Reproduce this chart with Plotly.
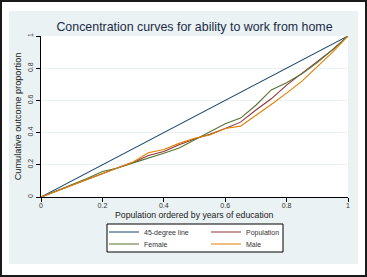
import plotly.graph_objects as go

x_share = [0, 0.05, 0.1, 0.15, 0.2, 0.25, 0.3, 0.35, 0.4, 0.45, 0.5,
           0.55, 0.6, 0.65, 0.7, 0.75, 0.8, 0.85, 0.9, 0.95, 1]
diag = [0, 1]
population = [0, 0.037, 0.075, 0.11, 0.148, 0.182, 0.215, 0.258, 0.283, 0.325, 0.36,
              0.39, 0.425, 0.465, 0.54, 0.61, 0.695, 0.77, 0.84, 0.915, 1]
female = [0, 0.038, 0.078, 0.115, 0.158, 0.18, 0.212, 0.24, 0.272, 0.305, 0.355,
          0.40, 0.455, 0.49, 0.57, 0.665, 0.71, 0.765, 0.835, 0.915, 1]
male = [0, 0.035, 0.072, 0.108, 0.145, 0.18, 0.218, 0.275, 0.295, 0.333, 0.365,
        0.385, 0.425, 0.44, 0.505, 0.575, 0.645, 0.72, 0.81, 0.90, 1]
ticks = [0, 0.2, 0.4, 0.6, 0.8, 1]
tick_text = ["0", "0.2", "0.4", "0.6", "0.8", "1"]

NAVY = "#1a476f"
MAROON = "#90353b"
GREEN = "#55752f"
ORANGE = "#e37e00"
BG = "#eaf2f3"

W, H = 367, 277
L, R, T, B = 41, 19, 36, 80
pw, ph = W - L - R, H - T - B

def px(x):
    return (x - L) / pw

def py(y):
    return (H - B - y) / ph

fig = go.Figure()
fig.add_trace(go.Scatter(x=diag, y=diag, mode="lines", name="45-degree line",
                         line=dict(color=NAVY, width=1.1), legend="legend"))
fig.add_trace(go.Scatter(x=x_share, y=population, mode="lines", name="Population",
                         line=dict(color=MAROON, width=1.1), legend="legend"))
fig.add_trace(go.Scatter(x=x_share, y=female, mode="lines", name="Female",
                         line=dict(color=GREEN, width=1.1), legend="legend2"))
fig.add_trace(go.Scatter(x=x_share, y=male, mode="lines", name="Male",
                         line=dict(color=ORANGE, width=1.1), legend="legend2"))

font_fam = "Liberation Sans, Arial, sans-serif"
leg_common = dict(orientation="h", x=px(104), xanchor="left", yanchor="middle",
                  bgcolor="rgba(0,0,0,0)", borderwidth=0,
                  font=dict(family=font_fam, size=7, color="#333333"),
                  entrywidth=57, entrywidthmode="pixels", itemwidth=30)

def band(x0, x1, y0, y1):
    return dict(type="rect", xref="paper", yref="paper", layer="above",
                x0=px(x0), x1=px(x1), y0=py(y1), y1=py(y0),
                fillcolor="white", line=dict(width=0))

fig.update_layout(
    width=W, height=H,
    margin=dict(l=L, r=R, t=T, b=B),
    paper_bgcolor=BG,
    plot_bgcolor="white",
    showlegend=True,
    title=dict(text="Concentration curves for ability to work from home",
               x=0.5, xref="paper", xanchor="center",
               y=1 - 27 / H, yref="container", yanchor="middle",
               font=dict(family=font_fam, size=12.4, color="#1c2a48")),
    legend=dict(y=py(232), **leg_common),
    legend2=dict(y=py(244), **leg_common),
    xaxis=dict(range=[0, 1], tickvals=ticks, ticktext=tick_text,
               showgrid=False, zeroline=False, showline=True, linecolor="black",
               linewidth=1, ticks="outside", ticklen=4, tickcolor="black",
               ticklabelstandoff=-2,
               tickfont=dict(family=font_fam, size=7, color="#333333"),
               automargin=False, fixedrange=True),
    yaxis=dict(range=[0, 1], tickvals=ticks, ticktext=tick_text,
               showgrid=True, gridcolor=BG, gridwidth=1, zeroline=False,
               showline=True, linecolor="black", linewidth=1,
               ticks="outside", ticklen=4, tickcolor="black", tickangle=-90,
               tickfont=dict(family=font_fam, size=7, color="#333333"),
               title=dict(text="Cumulative outcome proportion",
                          font=dict(family=font_fam, size=9.2, color="#222222"),
                          standoff=3),
               automargin=False, fixedrange=True),
    annotations=[
        dict(text="Population ordered by years of education",
             xref="paper", yref="paper", x=0.5, y=py(214.5),
             xanchor="center", yanchor="middle", showarrow=False,
             font=dict(family=font_fam, size=8.7, color="#222222")),
    ],
    shapes=[
        band(0, 9, 0, 277),
        band(358, 367, 0, 277),
        band(0, 367, 0, 11),
        band(0, 367, 264, 277),
        dict(type="rect", xref="paper", yref="paper", layer="above",
             x0=px(107), x1=px(283), y0=py(252), y1=py(224),
             fillcolor="white", line=dict(color="black", width=1)),
        dict(type="rect", xref="paper", yref="paper", layer="above",
             x0=px(1), x1=px(366), y0=py(276), y1=py(1),
             line=dict(color="#1a1a1a", width=2)),
    ],
)

fig.write_html("out.html", config={"displayModeBar": False},
               post_script="document.body.style.margin='0';document.body.style.padding='0';")
